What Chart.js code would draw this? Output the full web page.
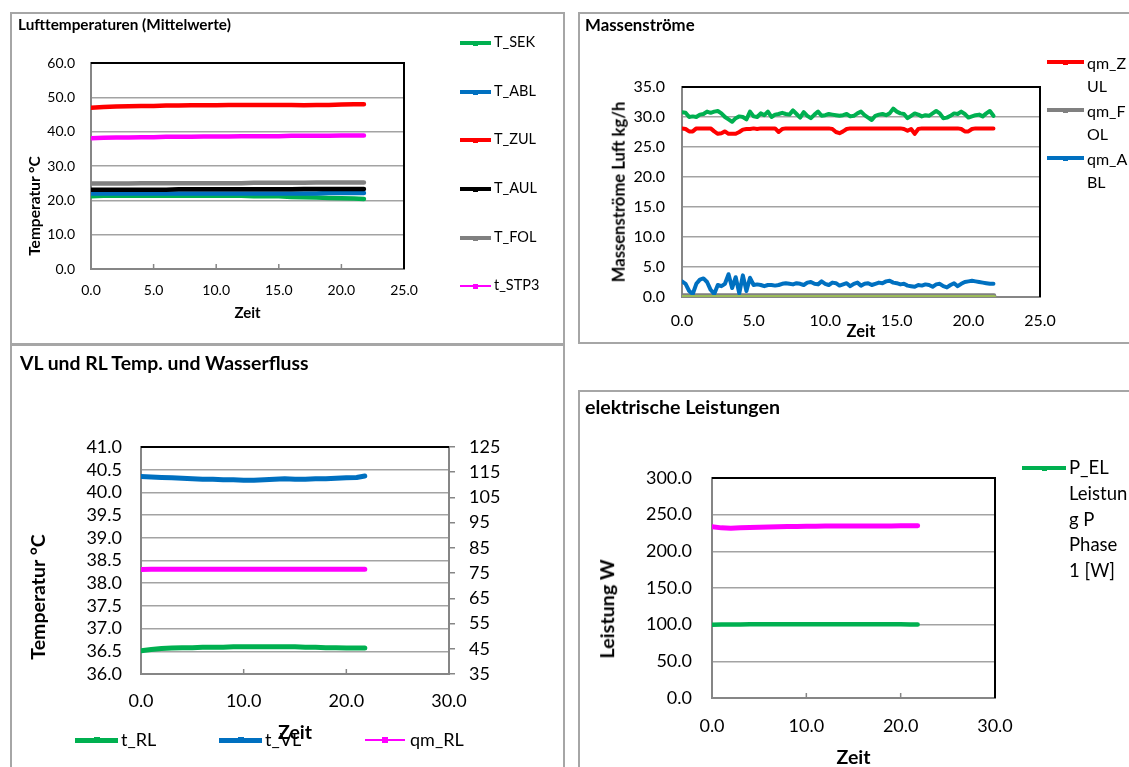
<!DOCTYPE html>
<html lang="de"><head><meta charset="utf-8">
<title>Messwerte</title>
<script src="https://cdn.jsdelivr.net/npm/chart.js@4.4.1/dist/chart.umd.min.js"></script>
<style>
 html,body{margin:0;padding:0;background:#fff;}
 body{position:relative;width:1129px;height:767px;overflow:hidden;font-family:Lato,"Liberation Sans",sans-serif;color:#000;}
 .panel{position:absolute;box-sizing:border-box;border:2px solid #a6a6a6;background:#fff;}
 canvas{position:absolute;}
 .txt{position:absolute;white-space:nowrap;line-height:1;}
 .b{font-weight:bold;}
 .rot{transform:translate(-50%,-50%) rotate(-90deg);}
</style></head>
<body>
<div class="panel" style="left:10px;top:12px;width:555px;height:333px"></div>
<div class="panel" style="left:578px;top:12px;width:570px;height:332px"></div>
<div class="panel" style="left:10px;top:344px;width:555px;height:440px"></div>
<div class="panel" style="left:578px;top:390px;width:570px;height:400px"></div>
<canvas id="c1" width="555" height="332" style="left:10px;top:12px"></canvas>
<canvas id="c2" width="551" height="331" style="left:578px;top:12px"></canvas>
<canvas id="c3" width="555" height="422" style="left:10px;top:345px"></canvas>
<canvas id="c4" width="551" height="377" style="left:578px;top:390px"></canvas>
<script>
// ===================== DATA =====================
// time axis (h)
const timeH = [0,1,2,3,4,5,6,7,8,9,10,11,12,13,14,15,16,17,18,19,20,21,21.8];
const timeQ = [0,0.25,0.5,0.75,1,1.25,1.5,1.75,2,2.25,2.5,2.75,3,3.25,3.5,3.75,4,4.25,4.5,4.75,
  5,5.25,5.5,5.75,6,6.25,6.5,6.75,7,7.25,7.5,7.75,8,8.25,8.5,8.75,9,9.25,9.5,9.75,
  10,10.25,10.5,10.75,11,11.25,11.5,11.75,12,12.25,12.5,12.75,13,13.25,13.5,13.75,14,14.25,14.5,14.75,
  15,15.25,15.5,15.75,16,16.25,16.5,16.75,17,17.25,17.5,17.75,18,18.25,18.5,18.75,19,19.25,19.5,19.75,
  20,20.25,20.5,20.75,21,21.25,21.5,21.75];

// Panel 1: Lufttemperaturen (Mittelwerte)
const luftNames = ['T_SEK','T_ABL','T_ZUL','T_AUL','T_FOL','t_STP3'];
const T_SEK  = [21.2,21.3,21.3,21.3,21.3,21.3,21.3,21.3,21.3,21.3,21.3,21.3,21.3,21.2,21.2,21.2,21.0,20.9,20.8,20.7,20.6,20.5,20.4];
const T_ABL  = [22.0,22.0,22.0,22.0,22.0,22.0,22.0,22.0,22.0,22.0,22.0,22.0,22.0,22.0,22.0,22.0,22.0,22.0,22.0,22.1,22.1,22.1,22.1];
const T_ZUL  = [47.0,47.2,47.3,47.4,47.5,47.5,47.6,47.6,47.7,47.7,47.7,47.8,47.8,47.8,47.8,47.8,47.8,47.7,47.8,47.8,47.9,48.0,48.0];
const T_AUL  = [23.1,23.1,23.1,23.1,23.1,23.1,23.1,23.2,23.2,23.2,23.2,23.2,23.2,23.2,23.2,23.2,23.2,23.3,23.3,23.3,23.3,23.3,23.3];
const T_FOL  = [24.9,24.9,24.9,24.9,25.0,25.0,25.0,25.0,25.0,25.0,25.0,25.0,25.0,25.1,25.1,25.1,25.1,25.1,25.2,25.2,25.2,25.2,25.2];
const t_STP3 = [38.1,38.2,38.3,38.3,38.4,38.4,38.5,38.5,38.5,38.6,38.6,38.6,38.7,38.7,38.7,38.7,38.8,38.8,38.8,38.8,38.9,38.9,38.9];

// Panel 2: Massenströme
const massNames = ['qm_ZUL','qm_FOL','qm_ABL'];
const qm_ZUL = [28.1,28.0,27.6,27.6,28.1,28.1,28.1,28.1, 28.1,27.6,27.2,27.3,27.6,27.2,27.2,27.2,
  27.5,27.9,28.0,28.0,28.1,28.0,28.1,28.1, 28.1,28.1,28.1,27.5,28.0,28.1,28.1,28.1,
  28.1,28.1,28.1,28.1,28.1,28.1,28.1,28.1, 28.1,28.1,28.0,27.5,27.3,27.6,28.0,28.1,
  28.1,28.1,28.1,28.1,28.1,28.1,28.1,28.1, 28.1,28.1,28.1,28.1,28.1,28.1,28.0,27.7,
  28.0,27.2,28.0,28.1,28.1,28.1,28.1,28.1, 28.1,28.1,28.1,28.1,28.1,28.1,28.0,27.6,
  27.6,28.0,28.1,28.1,28.1,28.1,28.1,28.1];
const qm_FOL = [0.3,0.3,0.3,0.3,0.3,0.3,0.3,0.3,0.3,0.3,0.3,0.3,0.3,0.3,0.3,0.3,0.3,0.3,0.3,0.3,0.3,0.3,0.3];
const qm_ABL = [2.6,2.2,1.0,0.5,2.2,2.9,3.1,2.5, 1.2,0.5,2.0,1.8,2.2,3.8,1.5,3.3,
  0.6,3.6,1.0,3.2,2.0,2.1,2.0,1.8, 2.0,2.0,1.9,2.0,2.2,2.3,2.2,2.1,
  2.3,2.2,2.0,2.4,2.5,2.2,2.1,2.6, 2.2,2.0,2.4,2.3,1.9,2.1,2.3,1.8,
  2.2,2.4,1.9,2.2,2.3,2.0,2.2,2.4, 2.3,2.6,2.7,2.4,2.3,2.1,2.2,1.9,
  1.8,1.7,2.0,1.9,2.1,2.0,1.7,2.1, 2.2,1.8,1.6,2.0,2.3,1.8,2.2,2.5,
  2.6,2.7,2.6,2.5,2.4,2.3,2.2,2.2];
const qm_SEK = [30.8,30.7,30.0,30.1,30.0,30.4,30.5,30.9, 30.7,30.9,31.0,30.6,30.0,29.6,29.2,29.8,
  30.1,30.0,29.6,30.9,30.1,30.0,30.6,30.3, 30.9,30.0,30.4,30.5,30.7,30.5,30.4,31.1,
  30.5,29.9,30.8,30.2,29.8,30.4,30.9,30.2, 30.3,30.5,30.4,30.3,30.2,30.3,30.5,30.1,
  30.2,30.6,30.9,30.3,29.9,29.5,30.2,30.4, 30.5,30.3,30.6,31.4,30.9,30.6,30.5,29.8,
  30.2,30.6,30.4,30.1,30.3,30.2,30.6,31.0, 30.6,29.8,29.9,30.2,30.6,30.5,30.9,30.5,
  29.9,30.1,30.3,30.4,30.1,30.6,31.0,30.2];
const qm_AUL = [0.0,0.0,0.0,0.0,0.0,0.0,0.0,0.0,0.0,0.0,0.0,0.0,0.0,0.0,0.0,0.0,0.0,0.0,0.0,0.0,0.0,0.0,0.0];

// Panel 3: VL und RL Temp. und Wasserfluss
const wasserNames = ['t_RL','t_VL','qm_RL'];
const t_RL  = [36.51,36.54,36.56,36.57,36.58,36.58,36.59,36.59,36.59,36.60,36.60,36.60,36.60,36.60,36.60,36.60,36.59,36.59,36.58,36.58,36.57,36.57,36.57];
const t_VL  = [40.35,40.34,40.33,40.32,40.31,40.30,40.29,40.29,40.28,40.28,40.27,40.27,40.28,40.29,40.30,40.29,40.29,40.30,40.30,40.31,40.32,40.33,40.36];
const qm_RL = [76.4,76.5,76.5,76.5,76.5,76.5,76.5,76.5,76.5,76.5,76.5,76.5,76.5,76.5,76.5,76.5,76.5,76.5,76.5,76.5,76.5,76.5,76.5];

// Panel 4: elektrische Leistungen
const leistNames = ['P_EL Leistung P Phase 1 [W]', 'Leistung P Phase 2 [W]'];
const leistLegendLines = ['P_EL','Leistun','g P','Phase','1 [W]'];
const P_EL1 = [100.0,100.2,100.3,100.3,100.4,100.4,100.4,100.5,100.5,100.6,100.6,100.6,100.7,100.6,100.6,100.5,100.5,100.5,100.5,100.4,100.4,100.3,100.2];
const P_EL2 = [233.5,232.0,231.6,232.0,232.5,232.8,233.2,233.5,233.8,234.0,234.2,234.3,234.5,234.5,234.5,234.4,234.5,234.6,234.6,234.7,234.8,234.8,234.9];

// ===================== STYLE =====================
const GREEN='#00B050', BLUE='#0070C0', RED='#FF0000', BLACK='#000000', GRAY='#808080', MAGENTA='#FF00FF', LGREEN='#9BBB59';
const AXIS='#868686', GRID='#a3a3a3';

Chart.defaults.font.family = 'Lato, "Liberation Sans", sans-serif';
Chart.defaults.color = '#000';

const framePlugin = {
  id: 'frame',
  beforeDatasetsDraw(chart, args, o) {
    const {ctx, chartArea: a} = chart;
    ctx.save();
    ctx.strokeStyle = '#000'; ctx.lineWidth = 2;
    ctx.beginPath();
    ctx.moveTo(a.left, a.top); ctx.lineTo(a.right, a.top);
    if (o.right) ctx.lineTo(a.right, a.bottom);
    ctx.stroke();
    if (o.inTicks) {
      const xs = chart.scales.x;
      ctx.strokeStyle = AXIS; ctx.lineWidth = 1.5;
      xs.ticks.forEach(t => {
        const px = xs.getPixelForValue(t.value);
        if (px > a.left + 2 && px < a.right - 2) {
          ctx.beginPath(); ctx.moveTo(px, a.bottom); ctx.lineTo(px, a.bottom - 5); ctx.stroke();
        }
      });
    }
    ctx.restore();
  }
};

function series(label, xs, ys, color, width, yAxisID) {
  return {label, data: ys.map((y, i) => ({x: xs[i], y})), borderColor: color, backgroundColor: color,
    borderWidth: width, pointRadius: 0, pointHoverRadius: 0, borderCapStyle: 'round', borderJoinStyle: 'round',
    tension: 0, fill: false, yAxisID: yAxisID || 'y'};
}
function ordered(list) { list.forEach((d, i) => d.order = list.length - i); return list; }

function xScale(min, max, step, fs, pad, H, tfs) {
  return {type: 'linear', min, max,
    ticks: {stepSize: step, padding: pad, color: '#000', font: {size: fs, lineHeight: 1}, maxRotation: 0, autoSkip: false,
      callback: v => Number(v).toFixed(1)},
    grid: {display: false, drawTicks: false},
    border: {display: true, color: AXIS, width: 2},
    title: {display: true, text: 'Zeit', color: '#000', font: {size: tfs, weight: 'bold', lineHeight: 1}, padding: 0},
    afterFit: s => { s.height = H; }};
}
function yScale(min, max, step, fs, pad, W, dec) {
  return {type: 'linear', position: 'left', min, max,
    ticks: {stepSize: step, padding: pad, color: '#000', font: {size: fs, lineHeight: 1}, autoSkip: false,
      callback: v => Number(v).toFixed(dec)},
    grid: {display: true, drawTicks: false, color: GRID, lineWidth: 1.5},
    border: {display: true, color: AXIS, width: 2},
    afterFit: s => { s.width = W; }};
}
function makeChart(id, datasets, scales, padding, frame) {
  return new Chart(document.getElementById(id), {
    type: 'line',
    data: {datasets: ordered(datasets)},
    options: {responsive: false, animation: false, devicePixelRatio: 1, events: [],
      layout: {padding},
      plugins: {legend: {display: false}, tooltip: {enabled: false}, title: {display: false}, frame},
      scales},
    plugins: [framePlugin]
  });
}

// ---- HTML text helpers (titles, legends) ----
function addText(html, x, cy, size, bold, lh) {
  const d = document.createElement('div');
  d.className = 'txt' + (bold ? ' b' : '');
  d.style.left = x + 'px';
  d.style.fontSize = size + 'px';
  if (lh) { d.style.lineHeight = lh + 'px'; d.style.top = (cy - lh / 2) + 'px'; }
  else { d.style.top = (cy - size * 0.53) + 'px'; }
  d.innerHTML = html;
  document.body.appendChild(d);
  return d;
}
function addYTitle(text, cx, cy, size) {
  const d = document.createElement('div');
  d.className = 'txt b rot';
  d.style.left = cx + 'px'; d.style.top = cy + 'px'; d.style.fontSize = size + 'px';
  d.textContent = text;
  document.body.appendChild(d);
}
function addSwatch(x1, x2, cy, color, lw, ms) {
  const l = document.createElement('div');
  l.style.cssText = `position:absolute;left:${x1}px;top:${cy - lw / 2}px;width:${x2 - x1}px;height:${lw}px;background:${color}`;
  document.body.appendChild(l);
  const m = document.createElement('div');
  const cx = (x1 + x2) / 2;
  m.style.cssText = `position:absolute;left:${cx - ms / 2}px;top:${cy - ms / 2}px;width:${ms}px;height:${ms}px;background:${color}`;
  document.body.appendChild(m);
}

function draw() {
  // ---------- Panel 1 ----------
  const c1 = [GREEN, BLUE, RED, BLACK, GRAY, MAGENTA];
  const d1 = [T_SEK, T_ABL, T_ZUL, T_AUL, T_FOL, t_STP3];
  makeChart('c1', luftNames.map((n, i) => series(n, timeH, d1[i], c1[i], 4.5)),
    {x: xScale(0, 25, 5, 14, 14, 52, 15), y: yScale(0, 60, 10, 14, 16, 81, 1)},
    {left: 0, top: 51, right: 161, bottom: 23}, {right: true, inTicks: true});
  addText('Lufttemperaturen (Mittelwerte)', 18, 25, 15.3, true);
  addYTitle('Temperatur °C', 35, 206, 15.5);
  const lg1 = [43, 92, 140, 189, 238, 286];
  luftNames.forEach((n, i) => {
    addSwatch(460, 491, lg1[i], c1[i], i === 5 ? 2 : 4, 5);
    addText(n, 494, lg1[i], 14.5, false);
  });

  // ---------- Panel 2 ----------
  makeChart('c2', [
      series(massNames[0], timeQ, qm_ZUL, RED, 4),
      series(massNames[1], timeH, qm_FOL, GRAY, 4),
      series(massNames[2], timeQ, qm_ABL, BLUE, 4),
      series('qm_SEK', timeQ, qm_SEK, GREEN, 4),
      series('qm_AUL', timeH, qm_AUL, LGREEN, 4)],
    {x: xScale(0, 25, 5, 16, 16, 43, 16.5), y: yScale(0, 35, 5, 16, 17, 104, 1)},
    {left: 0, top: 75, right: 89, bottom: 3}, {right: true, inTicks: false});
  addText('Massenströme', 585, 26, 16.8, true);
  addYTitle('Massenströme Luft kg/h', 619, 192, 16.6);
  const c2 = [RED, GRAY, BLUE];
  const lg2 = [62, 110, 158];
  massNames.forEach((n, i) => {
    addSwatch(1047, 1084, lg2[i], c2[i], 4, 5);
    addText(n.slice(0, 4) + '<br>' + n.slice(4), 1087, lg2[i], 16, false, 23);
  });

  // ---------- Panel 3 ----------
  makeChart('c3', [
      series(wasserNames[0], timeH, t_RL, GREEN, 5),
      series(wasserNames[1], timeH, t_VL, BLUE, 5),
      series(wasserNames[2], timeH, qm_RL, MAGENTA, 5, 'y2')],
    {x: xScale(0, 30, 10, 18, 18, 68, 19.5),
     y: yScale(36, 41, 0.5, 18, 19, 131, 1),
     y2: {type: 'linear', position: 'right', min: 35, max: 125,
       ticks: {stepSize: 10, padding: 14, color: '#000', font: {size: 18, lineHeight: 1}, callback: v => String(Math.round(v))},
       grid: {drawOnChartArea: false, drawTicks: true, tickLength: 6, color: AXIS, lineWidth: 1.5},
       border: {display: true, color: AXIS, width: 2},
       afterFit: s => { s.width = 60; }}},
    {left: 0, top: 102, right: 56, bottom: 25}, {right: false, inTicks: true});
  addText('VL und RL Temp. und Wasserfluss', 20, 363, 19.4, true);
  addYTitle('Temperatur °C', 38, 597, 19.5);
  const c3 = [GREEN, BLUE, MAGENTA];
  const lg3 = [[75, 118, 121], [219, 262, 265], [365, 405, 410]];
  wasserNames.forEach((n, i) => {
    addSwatch(lg3[i][0], lg3[i][1], 740, c3[i], i === 2 ? 2 : 5, 6);
    addText(n, lg3[i][2], 740, 18, false);
  });

  // ---------- Panel 4 ----------
  makeChart('c4', [
      series(leistNames[0], timeH, P_EL1, GREEN, 4.5),
      series(leistNames[1], timeH, P_EL2, MAGENTA, 5)],
    {x: xScale(0, 30, 10, 18, 19, 69, 19.5), y: yScale(0, 300, 50, 18, 20, 134, 1)},
    {left: 0, top: 88, right: 134, bottom: 0}, {right: true, inTicks: true});
  addText('elektrische Leistungen', 585, 407, 19.6, true);
  addYTitle('Leistung W', 607, 609, 19.7);
  addSwatch(1022, 1066, 468, GREEN, 4.5, 5);
  addText(leistLegendLines.join('<br>'), 1069, 468, 18.5, false, 25.7);
}

const fontsReady = document.fonts ? Promise.all([
  document.fonts.load('14px Lato'), document.fonts.load('bold 14px Lato')]) : Promise.resolve();
fontsReady.then(draw, draw);
</script>
</body></html>
